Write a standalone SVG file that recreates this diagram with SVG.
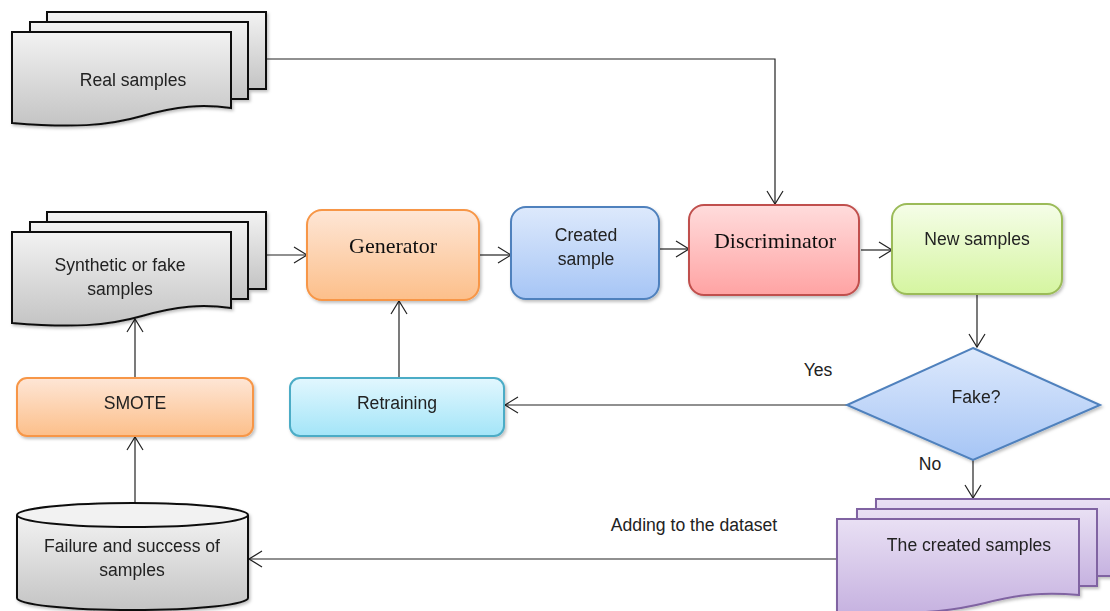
<svg xmlns="http://www.w3.org/2000/svg" width="1110" height="611" viewBox="0 0 1110 611">
<defs>
<linearGradient id="gGray" x1="0" y1="0" x2="0" y2="1"><stop offset="0" stop-color="#f2f2f2"/><stop offset="1" stop-color="#c4c4c4"/></linearGradient>
<linearGradient id="gOrange" x1="0" y1="0" x2="0" y2="1"><stop offset="0" stop-color="#fee6d6"/><stop offset="1" stop-color="#fcbf8a"/></linearGradient>
<linearGradient id="gBlue" x1="0" y1="0" x2="0" y2="1"><stop offset="0" stop-color="#dde9fc"/><stop offset="1" stop-color="#a6c5f5"/></linearGradient>
<linearGradient id="gRed" x1="0" y1="0" x2="0" y2="1"><stop offset="0" stop-color="#ffdcdc"/><stop offset="1" stop-color="#ffa3a3"/></linearGradient>
<linearGradient id="gGreen" x1="0" y1="0" x2="0" y2="1"><stop offset="0" stop-color="#f5fde8"/><stop offset="1" stop-color="#d5f5a0"/></linearGradient>
<linearGradient id="gCyan" x1="0" y1="0" x2="0" y2="1"><stop offset="0" stop-color="#e2f7fe"/><stop offset="1" stop-color="#a3e5f8"/></linearGradient>
<linearGradient id="gPurple" x1="0" y1="0" x2="0" y2="1"><stop offset="0" stop-color="#e9e0f4"/><stop offset="1" stop-color="#c6b2e0"/></linearGradient>
<filter id="sh" x="-10%" y="-10%" width="130%" height="130%"><feDropShadow dx="1.5" dy="2" stdDeviation="1.5" flood-color="#000" flood-opacity="0.25"/></filter>
<marker id="arr" markerWidth="16" markerHeight="18" refX="14" refY="9" orient="auto" markerUnits="userSpaceOnUse"><path d="M1,1 L14,9 L1,17" fill="none" stroke="#222" stroke-width="1.2"/></marker>
<path id="docFront" d="M0,0 H219 V76 C190,72 165,74 130,84 C95,94 60,96 0,91 Z"/>
</defs>
<style>
.t{font-family:"Liberation Sans",Arial,sans-serif;font-size:17.6px;fill:#222;text-anchor:middle}
.s{font-family:"Liberation Serif","Times New Roman",serif;font-size:22px;fill:#111;text-anchor:middle}
.doc{fill:url(#gGray);stroke:#111;stroke-width:2}
.pdoc{fill:url(#gPurple);stroke:#8064a2;stroke-width:2}
.c{fill:none;stroke:#222;stroke-width:1.2;marker-end:url(#arr)}
</style>

<g id="connectors">
<path class="c" d="M266,59 H775 V204"/>
<path class="c" d="M266,255 H307"/>
<path class="c" d="M479,255 H511"/>
<path class="c" d="M659,249 H689"/>
<path class="c" d="M861,250 H892"/>
<path class="c" d="M977,294 V347"/>
<path class="c" d="M847,405 H505"/>
<path class="c" d="M973,460 V498"/>
<path class="c" d="M837,559 H249"/>
<path class="c" d="M135,517 V437"/>
<path class="c" d="M399,378 V301"/>
<path class="c" d="M135,378 V319"/>
</g>

<g id="real-samples" filter="url(#sh)">
<rect class="doc" x="47" y="12" width="219" height="77"/>
<rect class="doc" x="30" y="22" width="218" height="77"/>
<use href="#docFront" class="doc" x="12" y="32"/>
<text class="t" x="133" y="86">Real samples</text>
</g>

<g id="synthetic-samples" filter="url(#sh)">
<rect class="doc" x="47" y="212" width="219" height="77"/>
<rect class="doc" x="30" y="222" width="218" height="77"/>
<use href="#docFront" class="doc" x="12" y="232"/>
<text class="t" x="120" y="271">Synthetic or fake</text>
<text class="t" x="120" y="295">samples</text>
</g>

<g id="generator" filter="url(#sh)">
<rect x="307" y="210" width="172" height="90" rx="15" fill="url(#gOrange)" stroke="#f79646" stroke-width="2"/>
<text class="s" x="393" y="253">Generator</text>
</g>

<g id="created-sample" filter="url(#sh)">
<rect x="511" y="207" width="148" height="92" rx="15" fill="url(#gBlue)" stroke="#4f81bd" stroke-width="2"/>
<text class="t" x="586" y="241">Created</text>
<text class="t" x="586" y="265">sample</text>
</g>

<g id="discriminator" filter="url(#sh)">
<rect x="689" y="205" width="170" height="90" rx="15" fill="url(#gRed)" stroke="#c0504d" stroke-width="2"/>
<text class="s" x="775" y="248">Discriminator</text>
</g>

<g id="new-samples" filter="url(#sh)">
<rect x="892" y="204" width="170" height="90" rx="15" fill="url(#gGreen)" stroke="#9bbb59" stroke-width="2"/>
<text class="t" x="977" y="245">New samples</text>
</g>

<g id="fake" filter="url(#sh)">
<polygon points="973,348 1100,405 973,460 847,405" fill="url(#gBlue)" stroke="#4f81bd" stroke-width="2"/>
<text class="t" x="976" y="403">Fake?</text>
</g>
<text class="t" x="818" y="376">Yes</text>
<text class="t" x="930" y="470">No</text>

<g id="created-samples" filter="url(#sh)">
<rect class="pdoc" x="876" y="499" width="242" height="77"/>
<rect class="pdoc" x="857" y="509" width="240" height="77"/>
<path class="pdoc" d="M837,519 H1079 V595 C1045,592 1020,594 985,603 C945,613 900,616 837,612 Z"/>
<text class="t" x="969" y="551">The created samples</text>
</g>
<text class="t" x="694" y="531">Adding to the dataset</text>

<g id="dataset" filter="url(#sh)">
<path d="M17,515 V598 A115.5,12 0 0 0 248,598 V515" fill="url(#gGray)" stroke="#111" stroke-width="2"/>
<ellipse cx="132.5" cy="515" rx="115.5" ry="12" fill="#f2f2f2" stroke="#111" stroke-width="2"/>
<text class="t" x="132" y="552">Failure and success of</text>
<text class="t" x="132" y="576">samples</text>
</g>

<g id="smote" filter="url(#sh)">
<rect x="17" y="378" width="236" height="58" rx="10" fill="url(#gOrange)" stroke="#f79646" stroke-width="2"/>
<text class="t" x="135" y="409">SMOTE</text>
</g>

<g id="retraining" filter="url(#sh)">
<rect x="290" y="378" width="214" height="58" rx="10" fill="url(#gCyan)" stroke="#4bacc6" stroke-width="2"/>
<text class="t" x="397" y="409">Retraining</text>
</g>
</svg>
